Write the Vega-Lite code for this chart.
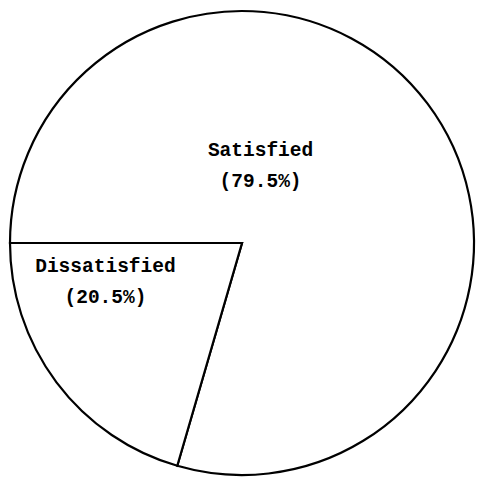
{
  "$schema": "https://vega.github.io/schema/vega-lite/v6.json",
  "width": 466,
  "height": 476,
  "padding": 5,
  "background": "white",
  "view": {"stroke": null},
  "data": {
    "values": [
      {"name": "Satisfied", "pct": 79.5, "label": "Satisfied\n(79.5%)"},
      {"name": "Dissatisfied", "pct": 20.5, "label": "Dissatisfied\n(20.5%)"}
    ]
  },
  "encoding": {
    "theta": {
      "field": "pct",
      "type": "quantitative",
      "stack": true,
      "scale": {"range": [4.71238898, 10.99557429]}
    },
    "order": {"field": "name", "sort": "descending"}
  },
  "layer": [
    {
      "mark": {"type": "arc", "radius": 232, "fill": "white", "stroke": "black", "strokeWidth": 2.2}
    },
    {
      "mark": {
        "type": "text",
        "radius": 97,
        "dx": -59,
        "dy": -35,
        "font": "Liberation Mono",
        "fontWeight": "bold",
        "fontSize": 19.5,
        "lineBreak": "\n",
        "lineHeight": 31,
        "align": "center",
        "baseline": "middle",
        "fill": "black"
      },
      "encoding": {"text": {"field": "label"}}
    }
  ]
}
